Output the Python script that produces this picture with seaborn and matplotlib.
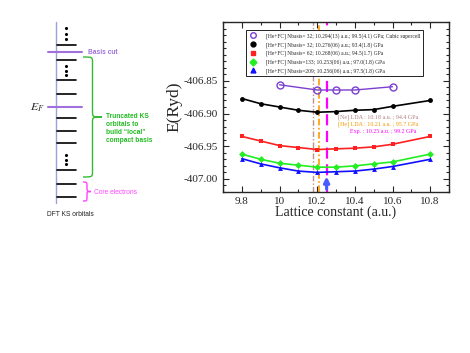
import numpy as np
import pandas as pd
import matplotlib
matplotlib.use("Agg")
import matplotlib.pyplot as plt
from matplotlib.path import Path
from matplotlib.patches import PathPatch
from matplotlib.lines import Line2D
from matplotlib.ticker import MultipleLocator
import seaborn as sns

# data: total energy vs lattice constant
lattice = [9.8, 9.9, 10.0, 10.1, 10.2, 10.3, 10.4, 10.5, 10.6, 10.8]
e_n32 = [-406.877, -406.885, -406.890, -406.895, -406.898, -406.897, -406.895, -406.894, -406.889, -406.880]
e_n62 = [-406.935, -406.942, -406.949, -406.952, -406.955, -406.954, -406.953, -406.951, -406.947, -406.935]
e_n133 = [-406.962, -406.970, -406.976, -406.979, -406.982, -406.982, -406.980, -406.977, -406.974, -406.962]
e_n209 = [-406.969, -406.977, -406.983, -406.988, -406.990, -406.989, -406.988, -406.985, -406.981, -406.970]
lattice_cubic = [10.0, 10.2, 10.3, 10.4, 10.6]
e_cubic = [-406.856, -406.864, -406.864, -406.864, -406.859]

labels = [
    "[He+FC] Nbasis= 32; 10.294(13) a.u.; 99.5(4.1) GPa; Cubic supercell",
    "[He+FC] Nbasis= 32; 10.276(06) a.u.; 93.4(1.8) GPa",
    "[He+FC] Nbasis= 62; 10.268(06) a.u.; 94.5(1.7) GPa",
    "[He+FC] Nbasis=133; 10.253(06) a.u.; 97.0(1.8) GPa",
    "[He+FC] Nbasis=209; 10.256(06) a.u.; 97.5(1.8) GPa",
]
ref_a = [10.18, 10.21, 10.25]
ref_text = ["[Ne] LDA : 10.18 a.u. ; 94.4 GPa",
            "[He] LDA : 10.21 a.u. ; 95.7 GPa",
            "Exp. : 10.25 a.u. ; 99.2 GPa"]

# schematic level positions (figure pixels, top-down)
levels_y = [45, 60, 80, 94, 118, 131, 143, 170, 184, 197]
dots_y = [[28, 34, 39], [66, 70.5, 75], [155, 160, 164]]

sns.set_theme(style="ticks")
plt.rcParams['font.family'] = ['Liberation Serif', 'DejaVu Serif']
plt.rcParams['mathtext.fontset'] = 'stix'

W, H = 470, 353
fig = plt.figure(figsize=(W / 100, H / 100), dpi=100)

# ---- left schematic panel ----
ax0 = fig.add_axes([0, 0, 1, 1])
ax0.set_xlim(0, W)
ax0.set_ylim(H, 0)
ax0.axis("off")

ax0.plot([56, 56], [22, 203], color="#9aa3d6", lw=1)
for y in levels_y:
    ax0.plot([57, 76], [y, y], color="black", lw=1.2)
for grp in dots_y:
    ax0.scatter([66] * len(grp), grp, s=1.5, color="black")
purple = "#a070dc"
ax0.plot([48, 82], [52, 52], color=purple, lw=1.5)
ax0.plot([48, 82], [107, 107], color=purple, lw=1.5)
sans = ['Liberation Sans', 'DejaVu Sans']
ax0.text(88, 52, "Basis cut", color=purple, fontsize=4.8, family=sans,
         fontweight="bold", va="center")
ax0.text(37, 108, "$E_F$", fontsize=8.5, va="center", ha="center")
ax0.text(70, 214, "DFT KS orbitals", fontsize=4.8, family=sans, ha="center",
         va="center", color="#222222")


def brace(ax, x, y0, y1, w, color):
    ym = (y0 + y1) / 2
    xm = x + w / 2
    d = min(6, (y1 - y0) / 4)
    verts = [(x, y0), (xm, y0), (xm, y0), (xm, y0 + d),
             (xm, ym - d),
             (xm, ym), (xm, ym), (x + w, ym),
             (xm, ym), (xm, ym), (xm, ym + d),
             (xm, y1 - d),
             (xm, y1), (xm, y1), (x, y1)]
    codes = [Path.MOVETO, Path.CURVE4, Path.CURVE4, Path.CURVE4,
             Path.LINETO,
             Path.CURVE4, Path.CURVE4, Path.CURVE4,
             Path.CURVE4, Path.CURVE4, Path.CURVE4,
             Path.LINETO,
             Path.CURVE4, Path.CURVE4, Path.CURVE4]
    ax.add_patch(PathPatch(Path(verts, codes), fill=False, ec=color, lw=1))


brace(ax0, 83, 57, 177, 19, "#33bb33")
brace(ax0, 83, 182, 201, 8, "#ff44ff")
ax0.text(106, 129, "Truncated KS\norbitals to\nbuild \u201clocal\u201d\ncompact basis",
         color="#22bb22", fontsize=4.8, family=sans, fontweight="bold",
         va="center", linespacing=1.2)
ax0.text(94, 192, "Core electrons", color="#ff44ff", fontsize=4.8,
         family=sans, va="center")

# ---- right panel: E vs lattice constant ----
ax = fig.add_axes([223 / W, 1 - 192 / H, 226 / W, 170 / H])

df = pd.concat([
    pd.DataFrame({"a": lattice, "E": e_n32, "s": labels[1]}),
    pd.DataFrame({"a": lattice, "E": e_n62, "s": labels[2]}),
    pd.DataFrame({"a": lattice, "E": e_n133, "s": labels[3]}),
    pd.DataFrame({"a": lattice, "E": e_n209, "s": labels[4]}),
])
colors = {labels[1]: "black", labels[2]: "#ff2020", labels[3]: "#22ee22",
          labels[4]: "#1010ff"}
markers = {labels[1]: "o", labels[2]: "s", labels[3]: "D", labels[4]: "^"}

for lab in labels[1:]:
    sub = df[df["s"] == lab]
    sns.lineplot(data=sub, x="a", y="E", ax=ax, color=colors[lab],
                 marker=markers[lab], markersize=3.5, markeredgewidth=0,
                 lw=1.2, legend=False)
cubic_col = "#7b3fd0"
sns.lineplot(x=lattice_cubic, y=e_cubic, ax=ax, color=cubic_col, marker="o",
             markersize=5, markerfacecolor="none", markeredgecolor=cubic_col,
             markeredgewidth=1, lw=1, legend=False)

ref_cols = ["#c09090", "#ff9900", "#ff00ff"]
ref_styles = [(0, (4, 1.5, 1, 1.5)), (0, (4, 1.5, 1, 1.5)), (0, (5, 2.5))]
ref_lw = [1, 1.2, 1.6]
for xv, c, ls, lw in zip(ref_a, ref_cols, ref_styles, ref_lw):
    ax.axvline(xv, color=c, ls=ls, lw=lw, zorder=1)

ax.text(0.51, 0.43, ref_text[0], transform=ax.transAxes, fontsize=4.3,
        color="#b08080")
ax.text(0.51, 0.39, ref_text[1], transform=ax.transAxes, fontsize=4.3,
        color="#ee9900")
ax.text(0.56, 0.345, ref_text[2], transform=ax.transAxes, fontsize=4.3,
        color="#ff00ff")

ax.annotate("", xy=(10.25, -406.992), xytext=(10.25, -407.02),
            arrowprops=dict(arrowstyle="-|>", color="#4a5cff", lw=2.2,
                            mutation_scale=8))

ax.set_xlim(9.7, 10.9)
ax.set_ylim(-407.02, -406.76)
ax.xaxis.set_minor_locator(MultipleLocator(0.1))
ax.yaxis.set_minor_locator(MultipleLocator(0.01))
ax.set_yticks([-407.00, -406.95, -406.90, -406.85])
ax.set_xticks([9.8, 10.0, 10.2, 10.4, 10.6, 10.8])
ax.set_xticklabels(["9.8", "10", "10.2", "10.4", "10.6", "10.8"])
ax.set_yticklabels(["-407.00", "-406.95", "-406.90", "-406.85"])
ax.tick_params(which="both", direction="in", top=True, right=True,
               labelsize=8, width=0.8)
ax.tick_params(which="major", length=4.5)
ax.tick_params(which="minor", length=2.5)
for sp in ax.spines.values():
    sp.set_linewidth(1)
ax.set_xlabel("Lattice constant (a.u.)", fontsize=10, labelpad=0)
ax.set_ylabel("E(Ryd)", fontsize=12.5, labelpad=1)

handles = [Line2D([], [], ls="none", marker="o", mfc="none", mec=cubic_col,
                  mew=1, ms=4)]
for lab in labels[1:]:
    handles.append(Line2D([], [], ls="none", marker=markers[lab],
                          color=colors[lab], ms=3.5))
leg = ax.legend(handles, labels, loc="upper left",
                bbox_to_anchor=(0.088, 0.968), fontsize=4.0, frameon=True,
                fancybox=False, edgecolor="black", framealpha=1,
                handletextpad=1.6, borderpad=0.5, labelspacing=0.5,
                handlelength=1.5)
leg.get_frame().set_linewidth(0.6)
leg.set_zorder(10)

fig.savefig("out.png", dpi=100)
